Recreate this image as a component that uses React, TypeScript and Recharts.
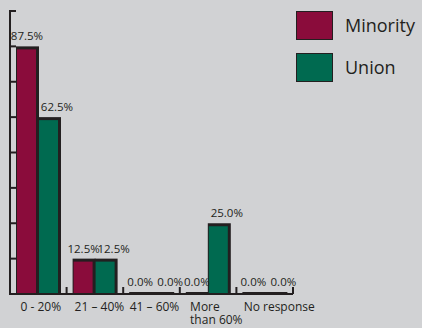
import React from 'react';
import { BarChart, Bar, XAxis, YAxis, LabelList, Legend } from 'recharts';

const CATEGORIES = ['0 - 20%', '21 – 40%', '41 – 60%', 'More\nthan 60%', 'No response'];
const MINORITY = [87.5, 12.5, 0, 0, 0];
const UNION = [62.5, 12.5, 0, 25, 0];
const Y_TICKS = [0, 12.5, 25, 37.5, 50, 62.5, 75, 87.5, 100];

const data = CATEGORIES.map((c, i) => ({ cat: c, minority: MINORITY[i], union: UNION[i] }));

const DARK = '#231f20';
const BG = '#d1d2d4';
const FONT = "'Open Sans', sans-serif";
const MINORITY_COLOR = '#8a0c3b';
const UNION_COLOR = '#006a50';

const CHART_W = 422;
const CHART_H = 328;
const MARGIN = { top: 11, right: 129, bottom: 0, left: 0 };
const Y_AXIS_W = 10;
const PLOT_W = CHART_W - MARGIN.right - MARGIN.left - Y_AXIS_W;
const HALF_BAND = PLOT_W / CATEGORIES.length / 2;

const BarShape = (props: any) => {
  const { x, y, width, height, fill } = props;
  if (!(width > 0) || !(height > 0)) return null;
  return (
    <g>
      <rect x={x} y={y} width={width + 1} height={height} fill={DARK} />
      {height > 3 && <rect x={x + 1} y={y + 3} width={width - 3} height={height - 3} fill={fill} />}
    </g>
  );
};

const TICK_NUDGE = [2.5, 4.5, 3, 0, 14.5];

const XTick = (props: any) => {
  const { x, y, payload } = props;
  const index = props.index ?? payload?.index ?? 0;
  const lines = String(payload.value).split('\n');
  const multi = lines.length > 1;
  const tx = multi ? x - 18 : x + (TICK_NUDGE[index] ?? 0);
  return (
    <g>
      <line x1={x + HALF_BAND} y1={y} x2={x + HALF_BAND} y2={y - 7} stroke={DARK} strokeWidth={2} />
      <text x={tx} y={y + 17} textAnchor={multi ? 'start' : 'middle'} fill={DARK} stroke="none" fontSize={12} fontFamily={FONT}>
        {lines.map((l, i) => (
          <tspan key={i} x={tx} dy={i === 0 ? 0 : 12.5}>{l}</tspan>
        ))}
      </text>
    </g>
  );
};

const YTick = (props: any) => {
  const { x, y } = props;
  return <line x1={x - 1} y1={y} x2={x + 6} y2={y} stroke={DARK} strokeWidth={2} />;
};

const LegendContent = (props: any) => {
  const payload = props.payload || [];
  return (
    <div style={{ position: 'relative', width: 422, height: 100 }}>
      {payload.map((p: any, i: number) => (
        <React.Fragment key={i}>
          <div
            style={{
              position: 'absolute',
              left: 296,
              top: 11 + 42 * i,
              width: 35,
              height: 27,
              background: p.color,
              border: `1px solid ${DARK}`,
            }}
          />
          <div
            style={{
              position: 'absolute',
              left: 345,
              top: 12.5 + 42 * i,
              fontSize: 18,
              lineHeight: '25px',
              fontFamily: FONT,
              color: DARK,
              whiteSpace: 'nowrap',
            }}
          >
            {p.value}
          </div>
        </React.Fragment>
      ))}
    </div>
  );
};

const fmt = (v: any) => `${Number(v).toFixed(1)}%`;

export default function App() {
  return (
    <div style={{ position: 'absolute', top: 0, left: 0, width: CHART_W, height: CHART_H, background: BG, fontFamily: FONT }}>
      <BarChart width={CHART_W} height={CHART_H} data={data} margin={MARGIN} barGap={0} barSize={22}>
        <YAxis
          width={Y_AXIS_W}
          domain={[0, 100]}
          ticks={Y_TICKS}
          type="number"
          tickSize={0}
          tickMargin={0}
          tickLine={false}
          axisLine={{ stroke: DARK, strokeWidth: 2 }}
          tick={(p: any) => <YTick {...p} />}
        />
        <XAxis
          dataKey="cat"
          height={34}
          interval={0}
          tickSize={0}
          tickMargin={0}
          tickLine={false}
          axisLine={{ stroke: DARK, strokeWidth: 2 }}
          tick={(p: any) => <XTick {...p} />}
        />
        <Legend
          layout="vertical"
          align="center"
          verticalAlign="middle"
          wrapperStyle={{ top: 0, left: 0, width: 422, height: 100, margin: 0 }}
          content={(p: any) => <LegendContent {...p} />}
        />
        <Bar dataKey="minority" name="Minority" fill={MINORITY_COLOR} shape={BarShape} minPointSize={2} isAnimationActive={false}>
          <LabelList dataKey="minority" position="top" offset={6} formatter={fmt} fill={DARK} stroke="none" fontSize={11.5} fontFamily={FONT} dx={0} />
        </Bar>
        <Bar dataKey="union" name="Union" fill={UNION_COLOR} shape={BarShape} minPointSize={2} isAnimationActive={false}>
          <LabelList dataKey="union" position="top" offset={6} formatter={fmt} fill={DARK} stroke="none" fontSize={11.5} fontFamily={FONT} dx={8} />
        </Bar>
      </BarChart>
    </div>
  );
}
